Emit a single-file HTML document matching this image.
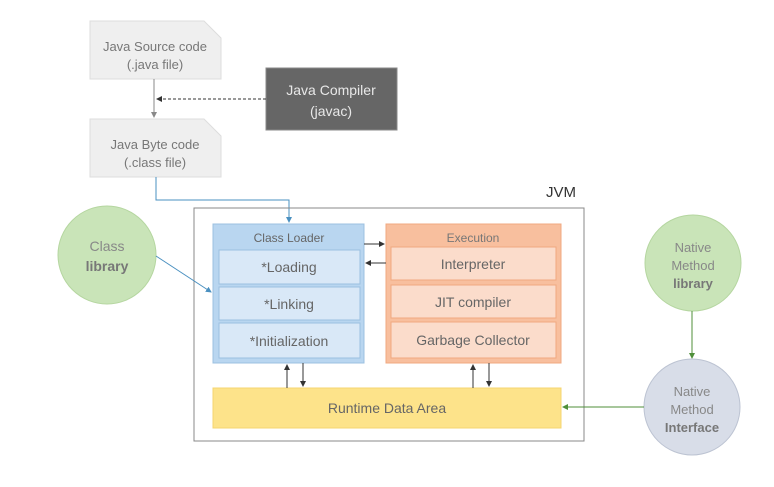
<!DOCTYPE html>
<html><head><meta charset="utf-8"><style>
body{margin:0;background:#fff;width:774px;height:482px;overflow:hidden}
svg text{font-family:"Liberation Sans",sans-serif}
</style></head><body>
<svg width="774" height="482" viewBox="0 0 774 482" xmlns="http://www.w3.org/2000/svg">
<defs>
<marker id="a" markerWidth="6" markerHeight="6" refX="5" refY="3" orient="auto"><path d="M0,0 L6,3 L0,6z" fill="#333"/></marker>
<marker id="ag" markerWidth="6" markerHeight="6" refX="5" refY="3" orient="auto"><path d="M0,0 L6,3 L0,6z" fill="#888"/></marker>
<marker id="ab" markerWidth="6" markerHeight="6" refX="5" refY="3" orient="auto"><path d="M0,0 L6,3 L0,6z" fill="#4a90c0"/></marker>
<marker id="agr" markerWidth="6" markerHeight="6" refX="5" refY="3" orient="auto"><path d="M0,0 L6,3 L0,6z" fill="#4f8f3a"/></marker>
</defs>
<path d="M90,21 H204 L221,38 V79 H90Z" fill="#efefef" stroke="#ddd"/>
<text x="155" y="51" text-anchor="middle" font-size="13" fill="#777">Java Source code</text>
<text x="155" y="69" text-anchor="middle" font-size="13" fill="#777">(.java file)</text>
<path d="M90,119 H204 L221,136 V177 H90Z" fill="#efefef" stroke="#ddd"/>
<text x="155" y="149" text-anchor="middle" font-size="13" fill="#777">Java Byte code</text>
<text x="155" y="167" text-anchor="middle" font-size="13" fill="#777">(.class file)</text>
<rect x="266" y="68" width="131" height="62" fill="#666" stroke="#888"/>
<text x="331" y="95" text-anchor="middle" font-size="14" fill="#e8e8e8">Java Compiler</text>
<text x="331" y="116" text-anchor="middle" font-size="14" fill="#e8e8e8">(javac)</text>
<line x1="154" y1="79" x2="154" y2="117" stroke="#888" marker-end="url(#ag)"/>
<line x1="266" y1="99" x2="157" y2="99" stroke="#333" stroke-dasharray="3,2" marker-end="url(#a)"/>
<path d="M156,177 V200 H289 V222" fill="none" stroke="#4a90c0" marker-end="url(#ab)"/>
<rect x="194" y="208" width="390" height="233" fill="none" stroke="#888"/>
<text x="546" y="197" font-size="15" fill="#333">JVM</text>
<rect x="213" y="224" width="151" height="139" fill="#b9d6f0" stroke="#9cc0e0"/>
<text x="289" y="242" text-anchor="middle" font-size="12" fill="#666">Class Loader</text>
<rect x="219" y="250" width="141" height="34" fill="#d9e8f7" stroke="#9cc0e0"/>
<text x="289" y="272" text-anchor="middle" font-size="14" fill="#666">*Loading</text>
<rect x="219" y="287" width="141" height="33" fill="#d9e8f7" stroke="#9cc0e0"/>
<text x="289" y="309" text-anchor="middle" font-size="14" fill="#666">*Linking</text>
<rect x="219" y="323" width="141" height="35" fill="#d9e8f7" stroke="#9cc0e0"/>
<text x="289" y="346" text-anchor="middle" font-size="14" fill="#666">*Initialization</text>
<rect x="386" y="224" width="175" height="139" fill="#f8bf9e" stroke="#f0a880"/>
<text x="473" y="242" text-anchor="middle" font-size="12" fill="#777">Execution</text>
<rect x="391" y="247" width="165" height="33" fill="#fbdccb" stroke="#f0a880"/>
<text x="473" y="269" text-anchor="middle" font-size="14" fill="#666">Interpreter</text>
<rect x="391" y="285" width="165" height="33" fill="#fbdccb" stroke="#f0a880"/>
<text x="473" y="307" text-anchor="middle" font-size="14" fill="#666">JIT compiler</text>
<rect x="391" y="322" width="165" height="36" fill="#fbdccb" stroke="#f0a880"/>
<text x="473" y="345" text-anchor="middle" font-size="14" fill="#666">Garbage Collector</text>
<rect x="213" y="388" width="348" height="40" fill="#fde38a" stroke="#f5d470"/>
<text x="387" y="413" text-anchor="middle" font-size="14" fill="#666">Runtime Data Area</text>
<line x1="364" y1="244" x2="384" y2="244" stroke="#333" marker-end="url(#a)"/>
<line x1="386" y1="263" x2="366" y2="263" stroke="#333" marker-end="url(#a)"/>
<line x1="287" y1="388" x2="287" y2="365" stroke="#333" marker-end="url(#a)"/>
<line x1="303" y1="363" x2="303" y2="386" stroke="#333" marker-end="url(#a)"/>
<line x1="473" y1="388" x2="473" y2="365" stroke="#333" marker-end="url(#a)"/>
<line x1="489" y1="363" x2="489" y2="386" stroke="#333" marker-end="url(#a)"/>
<circle cx="107" cy="255" r="49" fill="#c9e4b8" stroke="#b5d6a0"/>
<text x="107" y="251" text-anchor="middle" font-size="14" fill="#888">Class</text>
<text x="107" y="271" text-anchor="middle" font-size="14" font-weight="bold" fill="#777">library</text>
<line x1="156" y1="256" x2="211" y2="292" stroke="#4a90c0" marker-end="url(#ab)"/>
<circle cx="693" cy="263" r="48" fill="#c9e4b8" stroke="#b5d6a0"/>
<text x="693" y="252" text-anchor="middle" font-size="13" fill="#888">Native</text>
<text x="693" y="270" text-anchor="middle" font-size="13" fill="#888">Method</text>
<text x="693" y="288" text-anchor="middle" font-size="13" font-weight="bold" fill="#777">library</text>
<line x1="692" y1="311" x2="692" y2="358" stroke="#4f8f3a" marker-end="url(#agr)"/>
<circle cx="692" cy="407" r="48" fill="#d8dde8" stroke="#bcc3d2"/>
<text x="692" y="396" text-anchor="middle" font-size="13" fill="#888">Native</text>
<text x="692" y="414" text-anchor="middle" font-size="13" fill="#888">Method</text>
<text x="692" y="432" text-anchor="middle" font-size="13" font-weight="bold" fill="#777">Interface</text>
<line x1="644" y1="407" x2="563" y2="407" stroke="#4f8f3a" marker-end="url(#agr)"/>
</svg>
</body></html>
